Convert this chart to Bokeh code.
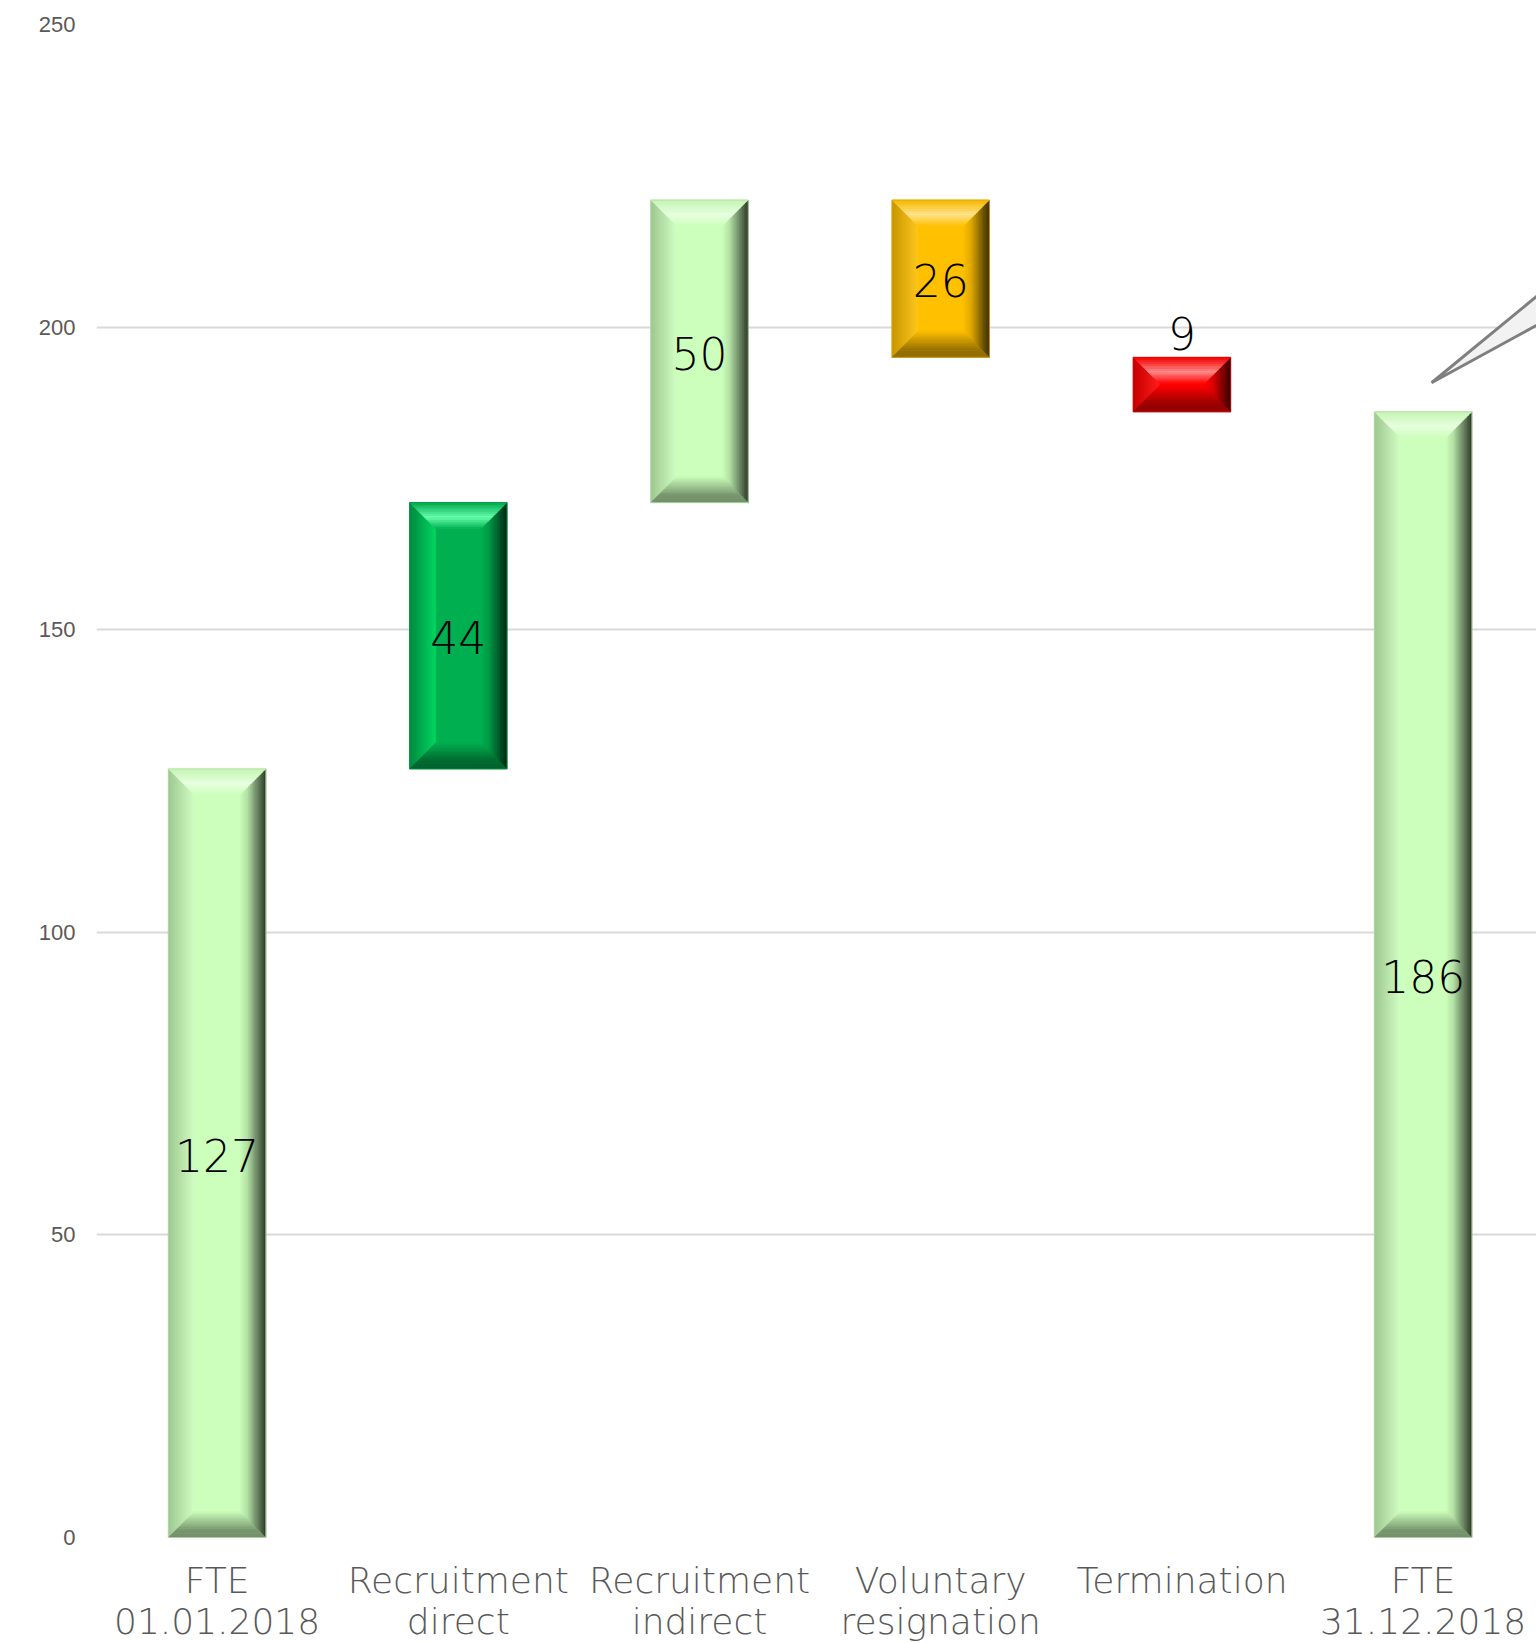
import colorsys
from bokeh.plotting import figure
from bokeh.models import Range1d, FixedTicker
from bokeh.core.properties import value
from bokeh.embed import file_html
from bokeh.resources import INLINE

# ---------------- data ----------------
categories = ["FTE\n01.01.2018", "Recruitment\ndirect", "Recruitment\nindirect",
              "Voluntary\nresignation", "Termination", "FTE\n31.12.2018"]
bar_values = [127, 44, 50, 26, 9, 186]
bar_kinds = ["total", "up", "up", "down", "down", "total"]
bar_colors = ["#CCFFBB", "#00B050", "#CCFFBB", "#FFC000", "#FF0000", "#CCFFBB"]
y_ticks = [0, 50, 100, 150, 200, 250]
# callout pointer (partly outside the visible area, as in the reference)
callout_x = [5.035, 6.2, 6.2]
callout_y = [190.8, 229.0, 216.2]

# ---------------- layout constants ----------------
FRAME_W, FRAME_H = 1440, 1513
X_START, X_END = -0.5, 5.47
Y_START, Y_END = 0, 250
BAR_W = 0.404
BEVEL_PX = 26
px_x = FRAME_W / (X_END - X_START)
px_y = FRAME_H / (Y_END - Y_START)
bx = BEVEL_PX / px_x
by_full = BEVEL_PX / px_y

# waterfall geometry from values
bottoms, tops = [], []
level = 0
for v, k in zip(bar_values, bar_kinds):
    if k == "total":
        b, t = 0, v
        level = v
    elif k == "up":
        b, t = level, level + v
        level = t
    else:
        b, t = level - v, level
        level = b
    bottoms.append(b)
    tops.append(t)


def h2rgb(h):
    h = h.lstrip("#")
    return tuple(int(h[i:i + 2], 16) / 255 for i in (0, 2, 4))


def rgb2h(c):
    return "#%02x%02x%02x" % tuple(max(0, min(255, round(x * 255))) for x in c)


def darken(c, f):
    return tuple(x * f for x in c)


def lighten(c, a):
    h, l, s = colorsys.rgb_to_hls(*c)
    l = l + (1 - l) * a
    return colorsys.hls_to_rgb(h, l, s)


def mixc(a, b, t):
    return tuple(a[i] * (1 - t) + b[i] * t for i in range(3))


def grad(stops, t):
    for (t0, c0), (t1, c1) in zip(stops[:-1], stops[1:]):
        if t <= t1:
            return mixc(c0, c1, (t - t0) / (t1 - t0) if t1 > t0 else 0)
    return stops[-1][1]


p = figure(frame_width=FRAME_W, frame_height=FRAME_H,
           x_range=Range1d(X_START, X_END), y_range=Range1d(Y_START, Y_END),
           output_backend="svg", toolbar_location=None,
           min_border_left=96, min_border_right=0, min_border_top=24, min_border_bottom=104)
p.outline_line_color = None
p.background_fill_color = "white"
p.border_fill_color = "white"

p.xgrid.grid_line_color = None
p.ygrid.grid_line_color = "#d9d9d9"
p.ygrid.grid_line_width = 2

p.yaxis.ticker = FixedTicker(ticks=y_ticks)
p.yaxis.axis_line_color = None
p.yaxis.major_tick_line_color = None
p.yaxis.minor_tick_line_color = None
p.yaxis.major_label_standoff = 15
p.yaxis.major_label_text_font = "Liberation Sans"
p.yaxis.major_label_text_font_size = "22px"
p.yaxis.major_label_text_color = "#595959"

p.xaxis.ticker = FixedTicker(ticks=list(range(len(categories))))
p.xaxis.major_label_overrides = {i: c for i, c in enumerate(categories)}
p.xaxis.axis_line_color = None
p.xaxis.major_tick_line_color = None
p.xaxis.minor_tick_line_color = None
p.xaxis.major_label_standoff = 16
p.xaxis.major_label_text_font = "DejaVu Sans Light"
p.xaxis.major_label_text_font_size = "36px"
p.xaxis.major_label_text_line_height = 1.02
p.xaxis.major_label_text_color = "#595959"
p.xaxis.major_label_text_align = "center"

# ---------------- bars with bevel ----------------
N = 12
xs, ys, cols = [], [], []
face_l, face_r, face_b, face_t, face_c, edge_c = [], [], [], [], [], []
for i, (b, t, col) in enumerate(zip(bottoms, tops, bar_colors)):
    c = h2rgb(col)
    x0, x1 = i - BAR_W / 2, i + BAR_W / 2
    y0, y1 = b, t
    by = min(by_full, (y1 - y0) / 2)
    face_l.append(x0); face_r.append(x1); face_b.append(y0); face_t.append(y1)
    face_c.append(col)
    edge_c.append(rgb2h(darken(c, 0.85)))
    right_st = [(0, c), (0.3, darken(c, 0.88)), (1, darken(c, 0.22))]
    left_st = [(0, lighten(c, 0.12)), (1, darken(c, 0.78))]
    top_st = [(0, c), (0.45, lighten(c, 0.55)), (1, darken(c, 0.96))]
    bot_st = [(0, c), (0.7, darken(c, 0.6)), (1, darken(c, 0.55))]
    for k in range(N):
        ta, tb = k / N, (k + 1) / N
        tm = (ta + tb) / 2
        # right
        xa, xb = x1 - bx + ta * bx, x1 - bx + tb * bx
        xs.append([xa, xb, xb, xa])
        ys.append([y0 + by * (1 - ta), y0 + by * (1 - tb), y1 - by * (1 - tb), y1 - by * (1 - ta)])
        cols.append(rgb2h(grad(right_st, tm)))
        # left
        xa, xb = x0 + bx - ta * bx, x0 + bx - tb * bx
        xs.append([xa, xb, xb, xa])
        ys.append([y0 + by * (1 - ta), y0 + by * (1 - tb), y1 - by * (1 - tb), y1 - by * (1 - ta)])
        cols.append(rgb2h(grad(left_st, tm)))
        # top
        ya, yb = y1 - by + ta * by, y1 - by + tb * by
        xs.append([x0 + bx * (1 - ta), x0 + bx * (1 - tb), x1 - bx * (1 - tb), x1 - bx * (1 - ta)])
        ys.append([ya, yb, yb, ya])
        cols.append(rgb2h(grad(top_st, tm)))
        # bottom
        ya, yb = y0 + by - ta * by, y0 + by - tb * by
        xs.append([x0 + bx * (1 - ta), x0 + bx * (1 - tb), x1 - bx * (1 - tb), x1 - bx * (1 - ta)])
        ys.append([ya, yb, yb, ya])
        cols.append(rgb2h(grad(bot_st, tm)))

p.quad(left=face_l, right=face_r, bottom=face_b, top=face_t,
       fill_color=face_c, line_color=None)
p.patches(xs=xs, ys=ys, fill_color=cols, line_color=cols, line_width=0.6)
p.quad(left=face_l, right=face_r, bottom=face_b, top=face_t,
       fill_color=None, line_color=edge_c, line_width=1, line_alpha=0.8)

# ---------------- value labels ----------------
lab_x, lab_y, lab_t = [], [], []
for i, (b, t, v) in enumerate(zip(bottoms, tops, bar_values)):
    lab_x.append(i)
    if (t - b) * px_y >= 60:
        lab_y.append((b + t) / 2)
    else:
        lab_y.append(t + 26 / px_y)
    lab_t.append(str(v))
p.text(x=lab_x, y=lab_y, text=lab_t, text_font=value("DejaVu Sans Light"), text_font_size="44px",
       text_color="black", text_align="center", text_baseline="middle", y_offset=2)

# ---------------- callout pointer ----------------
p.patch(x=callout_x, y=callout_y, fill_color="#f2f2f2", line_color="#7f7f7f", line_width=3)

open("out.html", "w").write(file_html(p, INLINE))
